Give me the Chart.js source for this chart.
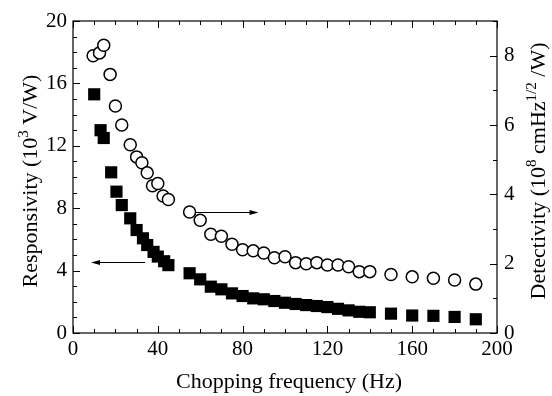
<!DOCTYPE html>
<html>
<head>
<meta charset="utf-8">
<script src="https://cdn.jsdelivr.net/npm/chart.js@4/dist/chart.umd.min.js"></script>
<style>
  html, body { margin: 0; padding: 0; background: #fff; }
  #wrap { width: 552px; height: 396px; }
</style>
</head>
<body>
<div id="wrap"><canvas id="chart" width="552" height="396"></canvas></div>
<script>
/* Chopping frequency (Hz) and responsivity (10^3 V/W) - filled squares, left axis */
const respFreq = [10, 13, 14.5, 18, 20.5, 23, 27, 30, 33, 35, 38, 40, 43, 45,
    55, 60, 65, 70, 75, 80, 85, 90, 95, 100, 105, 110, 115, 120, 125, 130, 135, 140,
    150, 160, 170, 180, 190];
const respValues = [15.3, 13.0, 12.5, 10.3, 9.06, 8.2, 7.35, 6.6, 6.07, 5.64, 5.2, 4.9, 4.6, 4.35,
    3.83, 3.44, 2.97, 2.8, 2.54, 2.37, 2.22, 2.16, 2.05, 1.94, 1.86, 1.79, 1.73, 1.66, 1.55, 1.45, 1.36, 1.33,
    1.24, 1.12, 1.1, 1.03, 0.88];

/* Detectivity (10^8 cmHz^1/2/W) - open circles, right axis */
const detFreq = [9.5, 12.5, 14.5, 17.5, 20, 23, 27, 30, 32.5, 35, 37.5, 40, 42.5, 45,
    55, 60, 65, 70, 75, 80, 85, 90, 95, 100, 105, 110, 115, 120, 125, 130, 135, 140,
    150, 160, 170, 180, 190];
const detValues = [8.0, 8.08, 8.3, 7.46, 6.55, 6.0, 5.43, 5.08, 4.91, 4.62, 4.25, 4.31, 3.95, 3.85,
    3.49, 3.25, 2.85, 2.79, 2.56, 2.4, 2.37, 2.31, 2.17, 2.2, 2.03, 2.0, 2.03, 1.96, 1.96, 1.91, 1.77, 1.77,
    1.69, 1.62, 1.58, 1.53, 1.41];

/* Axis ranges and ticks */
const xTicks = [0, 40, 80, 120, 160, 200];
const leftTicks = [0, 4, 8, 12, 16, 20];
const rightTicks = [0, 2, 4, 6, 8];

/* Arrows pointing to each series' axis: [x from, x to, y] */
const leftArrow = [34, 8.5, 4.52];
const rightArrow = [57.5, 87.5, 3.5];

const FONT = '"Liberation Serif", serif';

/* Frame, inward ticks, arrows and axis titles */
const decorations = {
    id: 'decorations',
    afterDatasetsDraw(chart) {
        const ctx = chart.ctx;
        const a = chart.chartArea;
        const sx = chart.scales.x, sy = chart.scales.y, sy1 = chart.scales.y1;
        ctx.save();
        ctx.strokeStyle = '#000';
        ctx.lineWidth = 1.2;
        ctx.strokeRect(a.left, a.top, a.right - a.left, a.bottom - a.top);

        ctx.lineWidth = 1;
        ctx.beginPath();
        // x ticks, bottom and top
        for (let v = 0; v <= 200; v += 10) {
            const px = Math.round(sx.getPixelForValue(v)) + 0.5;
            const len = v % 40 === 0 ? 7 : 4;
            ctx.moveTo(px, a.bottom); ctx.lineTo(px, a.bottom - len);
            ctx.moveTo(px, a.top); ctx.lineTo(px, a.top + len);
        }
        // left ticks
        for (let v = 0; v <= 20; v += 1) {
            const py = Math.round(sy.getPixelForValue(v)) + 0.5;
            const len = v % 4 === 0 ? 7 : 4;
            ctx.moveTo(a.left, py); ctx.lineTo(a.left + len, py);
        }
        // right ticks
        for (let v = 0; v <= 9; v += 1) {
            const py = Math.round(sy1.getPixelForValue(v)) + 0.5;
            const len = v % 2 === 0 ? 7 : 4;
            ctx.moveTo(a.right, py); ctx.lineTo(a.right - len, py);
        }
        ctx.stroke();

        // arrows
        drawArrow(ctx, sx.getPixelForValue(leftArrow[0]), sx.getPixelForValue(leftArrow[1]), sy.getPixelForValue(leftArrow[2]));
        drawArrow(ctx, sx.getPixelForValue(rightArrow[0]), sx.getPixelForValue(rightArrow[1]), sy1.getPixelForValue(rightArrow[2]));

        // titles
        ctx.fillStyle = '#000';
        ctx.textBaseline = 'alphabetic';
        ctx.font = '22px ' + FONT;
        ctx.textAlign = 'center';
        ctx.fillText('Chopping frequency (Hz)', (a.left + a.right) / 2 + 4, 388);

        drawRich(ctx, 30, (a.top + a.bottom) / 2 + 4, -Math.PI / 2,
            [['Responsivity (10', 0], ['3', 1], [' V/W)', 0]]);
        drawRich(ctx, 538, (a.top + a.bottom) / 2 - 6, -Math.PI / 2,
            [['Detectivity (10', 0], ['8', 1], [' cmHz', 0], ['1/2', 1], [' /W)', 0]]);
        ctx.restore();
    }
};

function drawArrow(ctx, x0, x1, y) {
    y = Math.round(y) + 0.5;
    const dir = x1 > x0 ? 1 : -1;
    ctx.beginPath();
    ctx.lineWidth = 1;
    ctx.moveTo(x0, y); ctx.lineTo(x1 - dir * 6, y);
    ctx.stroke();
    ctx.beginPath();
    ctx.moveTo(x1, y);
    ctx.lineTo(x1 - dir * 9, y - 2.5);
    ctx.lineTo(x1 - dir * 9, y + 2.5);
    ctx.closePath();
    ctx.fill();
}

/* Text with superscript parts, centred at (cx, cy), rotated */
function drawRich(ctx, cx, cy, rot, parts) {
    const big = '22px ' + FONT, small = '15px ' + FONT;
    let total = 0;
    parts.forEach(p => { ctx.font = p[1] ? small : big; total += ctx.measureText(p[0]).width; });
    ctx.save();
    ctx.translate(cx, cy);
    ctx.rotate(rot);
    ctx.textAlign = 'left';
    let x = -total / 2;
    parts.forEach(p => {
        ctx.font = p[1] ? small : big;
        ctx.fillText(p[0], x, p[1] ? -2 : 7);
        x += ctx.measureText(p[0]).width;
    });
    ctx.restore();
}

function init() {
    const ctx = document.getElementById('chart').getContext('2d');
    new Chart(ctx, {
        type: 'scatter',
        data: {
            datasets: [
                {
                    label: 'Responsivity',
                    data: respFreq.map((f, i) => ({ x: f, y: respValues[i] })),
                    yAxisID: 'y',
                    pointStyle: 'rect',
                    pointRadius: 8.6,
                    backgroundColor: '#000',
                    borderColor: '#000',
                    borderWidth: 0
                },
                {
                    label: 'Detectivity',
                    data: detFreq.map((f, i) => ({ x: f, y: detValues[i] })),
                    yAxisID: 'y1',
                    pointStyle: 'circle',
                    pointRadius: 6,
                    backgroundColor: '#fff',
                    borderColor: '#000',
                    borderWidth: 1.5
                }
            ]
        },
        options: {
            responsive: false,
            animation: false,
            layout: { padding: { top: 21, left: 0, right: 0, bottom: 0 } },
            plugins: { legend: { display: false }, tooltip: { enabled: false } },
            scales: {
                x: {
                    type: 'linear', min: 0, max: 200,
                    grid: { display: false, drawTicks: false },
                    border: { display: false },
                    afterBuildTicks: s => { s.ticks = xTicks.map(v => ({ value: v })); },
                    afterFit: s => { s.height = 63; },
                    ticks: { color: '#000', font: { family: FONT, size: 21 }, padding: 4, maxRotation: 0 }
                },
                y: {
                    type: 'linear', position: 'left', min: 0, max: 20,
                    grid: { display: false, drawTicks: false },
                    border: { display: false },
                    afterBuildTicks: s => { s.ticks = leftTicks.map(v => ({ value: v })); },
                    afterFit: s => { s.width = 73; },
                    ticks: { color: '#000', font: { family: FONT, size: 21 }, padding: 6 }
                },
                y1: {
                    type: 'linear', position: 'right', min: 0, max: 9,
                    grid: { display: false, drawTicks: false },
                    border: { display: false },
                    afterBuildTicks: s => { s.ticks = rightTicks.map(v => ({ value: v })); },
                    afterFit: s => { s.width = 55; },
                    ticks: { color: '#000', font: { family: FONT, size: 21 }, padding: 7 }
                }
            }
        },
        plugins: [decorations]
    });
}

window.addEventListener('load', init);
</script>
</body>
</html>
